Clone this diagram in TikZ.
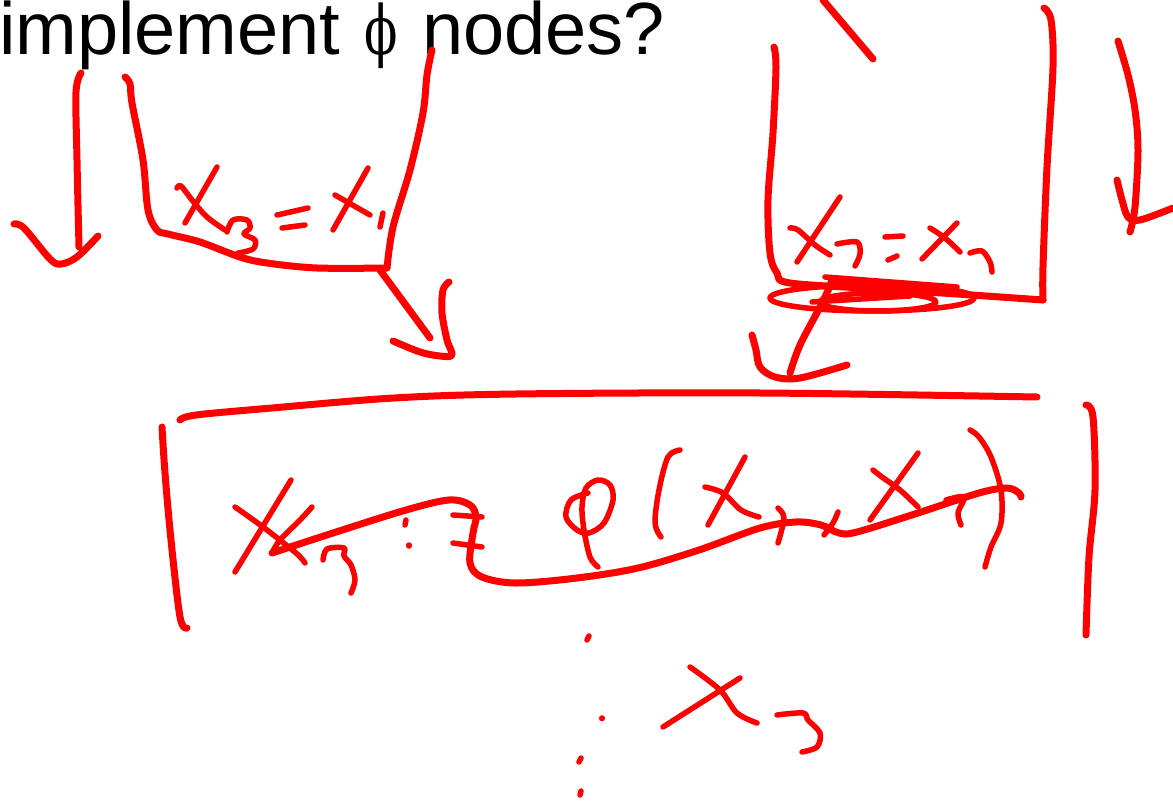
\documentclass[tikz,border=0pt]{standalone}
\usepackage{fontspec}
\setmainfont{Liberation Sans}
\newfontfamily\phiglyph{DejaVu Serif}
\begin{document}
\begin{tikzpicture}[x=1pt,y=-1pt,
  ink/.style={draw=red,line width=7pt,line cap=round,line join=round},
  fine/.style={ink,line width=5.5pt},
  hand/.style={smooth,tension=0.55},
  heading/.style={inner sep=0pt,font=\fontsize{74}{80}\selectfont}]
\path[use as bounding box,fill=white] (0,0) rectangle (1173,802);

% slide heading
\node[heading,anchor=base west] (title) at (-1,55) {implement};
\node[inner sep=0pt,anchor=base,font=\fontsize{68}{74}\selectfont\phiglyph] (phi) at (381,55) {\scalebox{0.72}[1]{ϕ}};
\node[heading,anchor=base west] (title2) at (422,55) {nodes?};

% ---- left branch ----
% incoming arrow on the far left
\draw[ink] plot[hand] coordinates {(81,73) (76,92) (77,160) (79,247)};
\draw[ink] plot[hand] coordinates {(14,224) (24,228) (50,259) (61,264) (77,257) (98,236)};
% left block
\draw[ink] plot[hand] coordinates {(125,77) (130,84) (132,103) (143,160) (148,210) (157,230) (168,234) (200,242) (240,257) (267,263) (317,268) (387,268)};
\draw[ink] plot[hand] coordinates {(432,50) (427,75) (423,113) (410,170) (393,227) (387,268)};
% x3 = x1
\draw[fine] plot[hand] coordinates {(177,188) (181,186) (192,200) (207,217) (225,230)};
\draw[fine] (217,167) -- (185,223);
\draw[fine] plot[hand] coordinates {(227,232) (233,220) (247,220) (250,228) (244,234) (255,240) (253,249) (238,253)};
\draw[fine] (277,215) -- (308,208);
\draw[fine] (282,228) -- (305,225);
\draw[fine] (335,195) -- (370,215);
\draw[fine] (368,168) -- (333,230);
\draw[fine] (383,213) -- (380,227);
% arrow into the join block
\draw[ink] (380,270) -- (430,338);
\draw[ink] plot[hand] coordinates {(449,282) (443,290) (442,313) (447,340) (452,355) (440,356) (420,352) (393,341)};

% ---- right branch ----
\draw[ink] (823,0) -- (873,59);
% right block
\draw[ink] plot[hand] coordinates {(774,47) (776,67) (773,133) (768,200) (770,253) (777,273) (790,283) (880,289) (957,294) (1043,300)};
\draw[ink] plot[hand] coordinates {(1044,8) (1051,20) (1053,67) (1047,167) (1043,267) (1043,300)};
% x2 = x2
\draw[fine] plot[hand] coordinates {(790,228) (798,230) (815,245) (830,255)};
\draw[fine] (840,197) -- (797,262);
\draw[fine] plot[hand] coordinates {(837,244) (857,242) (860,254) (855,266)};
\draw[fine] (885,237) -- (903,236);
\draw[fine] (888,260) -- (897,256);
\draw[fine] plot[hand] coordinates {(930,228) (945,238) (960,252)};
\draw[fine] (957,223) -- (922,259);
\draw[fine] plot[hand] coordinates {(970,253) (982,251) (990,262) (992,272)};
% scribbled marker on the bottom edge
\draw[fine] (872,298) ellipse [x radius=102,y radius=13];
\draw[fine] (878,302) ellipse [x radius=58,y radius=9];
\draw[fine] (825,277) -- (957,287);
\draw[fine] (830,282) -- (940,289);
\draw[fine] (812,302) -- (910,296);
% arrow into the join block
\draw[ink] plot[hand] coordinates {(833,280) (820,307) (800,345) (790,373)};
\draw[ink] plot[hand] coordinates {(752,335) (756,350) (760,367) (775,377) (800,378) (847,365)};
% outgoing arrow on the far right
\draw[ink] plot[hand] coordinates {(1118,41) (1128,75) (1135,110) (1138,150) (1135,207) (1130,232)};
\draw[ink] plot[hand] coordinates {(1117,180) (1122,200) (1128,217) (1140,220) (1173,208)};

% ---- join block ----
\draw[ink] plot[hand] coordinates {(180,420) (196,415) (272,408) (394,398) (516,394) (760,393) (1037,397)};
\draw[ink] plot[hand] coordinates {(162,427) (165,473) (171,540) (180,617) (187,628)};
\draw[ink] plot[hand] coordinates {(1086,405) (1093,417) (1095,490) (1089,557) (1086,635)};
% x3 := phi(x1, x2), struck through
\draw[fine] plot[hand] coordinates {(235,507) (263,527) (296,553) (305,563)};
\draw[fine] (291,480) -- (235,572);
\draw[fine] plot[hand] coordinates {(312,507) (300,520) (280,540) (272,553)};
\draw[fine] plot[hand] coordinates {(323,560) (327,549) (344,548) (344,556) (351,565) (355,580) (351,593)};
\draw[fine] (406,520) -- (405,525);
\draw[fine] (409,545) -- (409,546);
\draw[fine] (453,515) -- (482,517);
\draw[fine] (453,543) -- (482,547);
\draw[fine] plot[hand] coordinates {(588,493) (571,500) (566,517) (577,530) (589,533) (604,523) (613,500) (610,485) (598,480) (586,488) (582,507) (584,530) (590,557) (598,567)};
\draw[fine] plot[hand] coordinates {(680,450) (668,457) (659,490) (655,523) (661,537)};
\draw[fine] (745,457) -- (708,525);
\draw[fine] plot[hand] coordinates {(705,487) (723,493) (741,510) (759,517)};
\draw[fine] plot[hand] coordinates {(778,508) (784,518) (778,543)};
\draw[fine] plot[hand] coordinates {(838,512) (833,523) (824,535)};
\draw[fine] (918,453) -- (870,520);
\draw[fine] plot[hand] coordinates {(873,470) (882,477) (900,490) (918,507)};
\draw[fine] plot[hand] coordinates {(946,500) (964,497) (958,513) (961,525)};
\draw[fine] plot[hand] coordinates {(970,430) (979,437) (991,457) (1001,490) (1001,523) (991,547) (985,567)};
\draw[ink] plot[hand] coordinates {(272,553) (333,533) (406,510) (449,500) (470,505) (476,517) (473,533) (470,563) (482,577) (516,583) (577,578) (638,568) (699,550) (760,528) (796,522) (821,525) (839,533) (857,532) (918,513) (979,493) (1007,488) (1019,493) (1021,497)};

% ---- below: result ----
\draw[fine] (589,636) -- (587,640);
\draw[fine] (602,718) -- (602,718.5);
\draw[fine] (581,758) -- (579,762);
\draw[fine] (581,791) -- (580,795);
\draw[fine] plot[hand] coordinates {(690,667) (720,690) (737,713) (757,723)};
\draw[fine] (740,678) -- (663,727);
\draw[fine] plot[hand] coordinates {(777,715) (803,713) (808,720) (820,733) (817,747) (802,752)};
\end{tikzpicture}
\end{document}
